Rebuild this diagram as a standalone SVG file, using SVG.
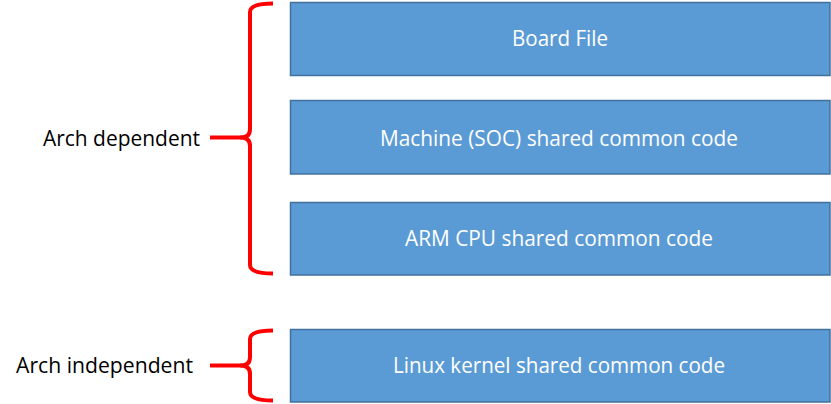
<svg xmlns="http://www.w3.org/2000/svg" width="831" height="404" viewBox="0 0 831 404">
<style>
.box{fill:#5B9BD5;stroke:#41719C;stroke-width:1.5}
.bt{font-family:"Open Sans","Liberation Sans",sans-serif;font-size:22px;fill:#FFFFFF;text-anchor:middle}
.lt{font-family:"Open Sans","Liberation Sans",sans-serif;font-size:22px;fill:#000000}
.br{fill:none;stroke:#FF0000;stroke-width:4;stroke-linecap:butt;stroke-linejoin:round}
</style>
<rect width="831" height="404" fill="#FFFFFF"/>
<g id="board-file"><rect class="box" x="290.5" y="2.5" width="539.5" height="73"/><text class="bt" x="560" y="46" textLength="96" lengthAdjust="spacingAndGlyphs">Board File</text></g>
<g id="machine-soc"><rect class="box" x="290.5" y="100.5" width="539.5" height="73.5"/><text class="bt" x="559" y="146" textLength="358" lengthAdjust="spacingAndGlyphs">Machine (SOC) shared common code</text></g>
<g id="arm-cpu"><rect class="box" x="290.5" y="202.5" width="539.5" height="72.5"/><text class="bt" x="559" y="246" textLength="308" lengthAdjust="spacingAndGlyphs">ARM CPU shared common code</text></g>
<g id="linux-kernel"><rect class="box" x="290.5" y="329.5" width="539.5" height="72.5"/><text class="bt" x="559" y="372.5" textLength="332" lengthAdjust="spacingAndGlyphs">Linux kernel shared common code</text></g>
<g id="arch-dependent"><text class="lt" x="43" y="146" textLength="157" lengthAdjust="spacingAndGlyphs">Arch dependent</text></g>
<g id="arch-independent"><text class="lt" x="16" y="372.5" textLength="177" lengthAdjust="spacingAndGlyphs">Arch independent</text></g>
<g id="connectors">
<path class="br" d="M273,3.5 Q250,3.5 250,12 L250,129 Q250,137.5 241,137.5 Q250,137.5 250,146 L250,265 Q250,273.5 273,273.5"/>
<path class="br" d="M210,137.5 L242,137.5"/>
<path class="br" d="M273,330.5 Q250,330.5 250,339 L250,357 Q250,365.5 241,365.5 Q250,365.5 250,374 L250,392 Q250,400.5 273,400.5"/>
<path class="br" d="M210,365.5 L242,365.5"/>
</g>
</svg>
